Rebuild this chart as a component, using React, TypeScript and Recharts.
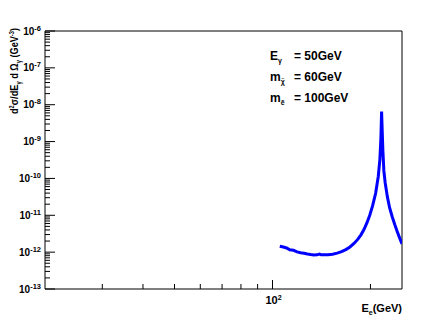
import React from "react";
import { LineChart, Line, XAxis, YAxis, ReferenceArea } from "recharts";

const energyGeV = [105.3, 108, 110.5, 113, 116, 119, 122, 125, 128, 131, 134, 137, 139.5, 141, 144, 148, 153, 158, 163, 168, 173, 178, 183, 187, 191, 195, 199, 203, 207.5, 211.4, 213.8, 215.3, 216.4, 217.4, 218.4, 219.9, 222, 225.4, 229, 233.4, 237.5, 241.8, 246, 250];
const crossSection = [1.45e-12, 1.38e-12, 1.3e-12, 1.16e-12, 1.12e-12, 1.02e-12, 9.6e-13, 9.3e-13, 8.9e-13, 8.6e-13, 8.4e-13, 8.45e-13, 8.9e-13, 8.5e-13, 8.5e-13, 8.55e-13, 8.8e-13, 9.4e-13, 1.03e-12, 1.17e-12, 1.38e-12, 1.72e-12, 2.25e-12, 2.95e-12, 4.1e-12, 6.2e-12, 1.0e-11, 1.8e-11, 4.0e-11, 1.15e-10, 3.3e-10, 1.2e-9, 6.5e-9, 1.8e-9, 5.5e-10, 1.6e-10, 7.5e-11, 3.2e-11, 1.6e-11, 9.0e-12, 5.6e-12, 3.6e-12, 2.4e-12, 1.68e-12];

const xTicks = [30, 40, 50, 60, 70, 80, 90, 100, 200];
const xMajorTicks = [100];
const yDecadeExponents = [-13, -12, -11, -10, -9, -8, -7, -6];
const legendLines = [
  { main: "E", sub: "γ", value: "= 50GeV" },
  { main: "m", sub: "χ̃", value: "= 60GeV" },
  { main: "m", sub: "ẽ", value: "= 100GeV" },
];

const data = energyGeV.map((e, i) => ({ e, v: crossSection[i] }));

const yTicks: number[] = [];
yDecadeExponents.forEach((ex) => {
  if (ex === -6) {
    yTicks.push(1e-6);
    return;
  }
  for (let m = 1; m <= 9; m++) yTicks.push(parseFloat((m * Math.pow(10, ex)).toPrecision(3)));
});

const FONT = "'Liberation Sans', Arial, Helvetica, sans-serif";

const YTick = (props: any) => {
  const { x, y, payload } = props;
  const v = payload.value;
  const lg = Math.log10(v);
  const ex = Math.round(lg);
  const major = Math.abs(lg - ex) < 1e-6;
  return (
    <g>
      <line x1={x} x2={x + (major ? 10 : 5)} y1={y} y2={y} stroke="#000" strokeWidth={1} />
      {major && (
        <text x={x - 4} y={y + 3.5} textAnchor="end" fontFamily={FONT} fontWeight="bold" fontSize={10} fill="#000">
          <tspan>10</tspan>
          <tspan dy={-4} fontSize={7.5}>{String(ex)}</tspan>
        </text>
      )}
    </g>
  );
};

const XTick = (props: any) => {
  const { x, y, payload } = props;
  const v = payload.value;
  const major = xMajorTicks.includes(v);
  return (
    <g>
      <line x1={x} x2={x} y1={y} y2={y - (major ? 9 : 5)} stroke="#000" strokeWidth={1} />
      {major && (
        <text x={x + 1} y={y + 15} textAnchor="middle" fontFamily={FONT} fontWeight="bold" fontSize={11} fill="#000">
          <tspan>10</tspan>
          <tspan dy={-4} fontSize={7}>{String(Math.round(Math.log10(v)))}</tspan>
        </text>
      )}
    </g>
  );
};

export default function App() {
  return (
    <div style={{ position: "absolute", left: 0, top: 0, width: 447, height: 321, background: "#fff" }}>
      <LineChart width={447} height={321} data={data} margin={{ top: 31, right: 45, bottom: 0, left: 0 }}>
        <XAxis
          dataKey="e"
          type="number"
          scale="log"
          domain={[20, 250]}
          allowDataOverflow
          ticks={xTicks}
          interval={0}
          tickSize={0}
          tickMargin={0}
          axisLine={false}
          tickLine={false}
          tick={<XTick />}
          height={32}
        />
        <YAxis
          type="number"
          scale="log"
          domain={[1e-13, 1e-6]}
          allowDataOverflow
          ticks={yTicks}
          interval={0}
          tickSize={0}
          tickMargin={0}
          axisLine={false}
          tickLine={false}
          tick={<YTick />}
          width={45}
        />
        <ReferenceArea x1={20} x2={250} y1={1e-13} y2={1e-6} fill="none" stroke="#000" strokeWidth={1} ifOverflow="visible" />
        <Line dataKey="v" stroke="#0000ff" strokeWidth={3} dot={false} type="linear" isAnimationActive={false} />
      </LineChart>
      <svg width={447} height={321} style={{ position: "absolute", left: 0, top: 0, pointerEvents: "none" }}>
        {legendLines.map((l, i) => (
          <text key={i} x={270} y={59.5 + i * 21} fontFamily={FONT} fontWeight="bold" fontSize={12} fill="#000">
            <tspan>{l.main}</tspan>
            <tspan dy={3} fontSize={7}>{l.sub}</tspan>
            <tspan x={294} dy={-3}>{l.value}</tspan>
          </text>
        ))}
        <text x={402} y={312} textAnchor="end" fontFamily={FONT} fontWeight="bold" fontSize={11} fill="#000">
          <tspan>E</tspan>
          <tspan dy={3} fontSize={7}>e</tspan>
          <tspan dy={-3}>(GeV)</tspan>
        </text>
        <text transform="rotate(-90)" x={-28} y={17.5} textAnchor="end" fontFamily={FONT} fontWeight="bold" fontSize={10.5} fill="#000" textLength={86} lengthAdjust="spacingAndGlyphs">
          <tspan>d</tspan>
          <tspan dy={-4} fontSize={6.5}>2</tspan>
          <tspan dy={4}>σ/dE</tspan>
          <tspan dy={3} fontSize={6.5}>γ</tspan>
          <tspan dy={-3}> d Ω</tspan>
          <tspan dy={3} fontSize={6.5}>γ</tspan>
          <tspan dy={-3}> (GeV</tspan>
          <tspan dy={-4} fontSize={6.5}>-3</tspan>
          <tspan dy={4}>)</tspan>
        </text>
      </svg>
    </div>
  );
}
